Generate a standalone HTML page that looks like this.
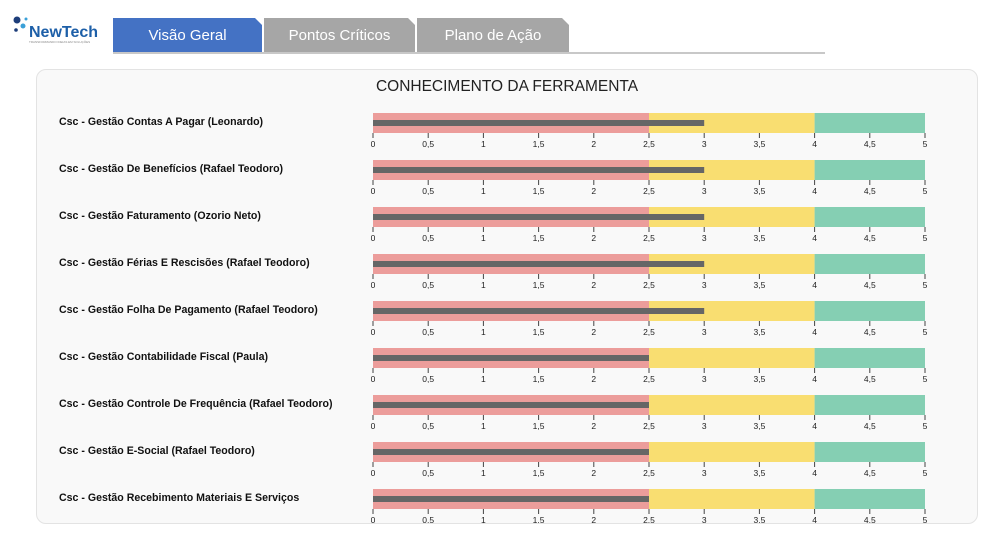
<!DOCTYPE html>
<html><head><meta charset="utf-8"><style>
body{margin:0;width:996px;height:538px;background:#fff;font-family:"Liberation Sans",sans-serif;position:relative;overflow:hidden}
.tab{position:absolute;top:18px;height:34px;color:#fff;font-size:15px;text-align:center;line-height:36px;clip-path:polygon(0 0,calc(100% - 7px) 0,100% 7px,100% 100%,0 100%)}
#panel{position:absolute;left:36px;top:69px;width:940px;height:453px;border:1px solid #e3e3e3;border-radius:10px;background:#f9f9f9;overflow:hidden}
</style></head><body>
<div style="position:absolute;left:12px;top:14px;width:90px;height:32px">
<svg width="90" height="32"><circle cx="5" cy="6" r="3.5" fill="#1d3d7a"/><circle cx="11" cy="12" r="2.5" fill="#3aa0d8"/><circle cx="4" cy="16" r="1.8" fill="#1d3d7a"/><circle cx="14" cy="5" r="1.5" fill="#3aa0d8"/>
<text x="17" y="23" font-family="Liberation Sans" font-weight="bold" font-size="16" fill="#1d5fa8">NewTech</text>
<text x="17" y="29" font-family="Liberation Sans" font-size="3" fill="#888">TRANSFORMANDO IDEIAS EM SOLUÇÕES</text></svg></div>
<div class="tab" style="left:113px;width:149px;background:#4472c4">Visão Geral</div>
<div class="tab" style="left:264px;width:151px;background:#a6a6a6">Pontos Críticos</div>
<div class="tab" style="left:417px;width:152px;background:#a6a6a6">Plano de Ação</div>
<div style="position:absolute;left:113px;top:52px;width:712px;height:2px;background:#c8c8c8"></div>
<div id="panel">
<svg id="chart" width="940" height="453"></svg>
</div>
<script>
const categories=["Csc - Gestão Contas A Pagar (Leonardo)","Csc - Gestão De Benefícios (Rafael Teodoro)","Csc - Gestão Faturamento (Ozorio Neto)","Csc - Gestão Férias E Rescisões (Rafael Teodoro)","Csc - Gestão Folha De Pagamento (Rafael Teodoro)","Csc - Gestão Contabilidade Fiscal (Paula)","Csc - Gestão Controle De Frequência (Rafael Teodoro)","Csc - Gestão E-Social (Rafael Teodoro)","Csc - Gestão Recebimento Materiais E Serviços"];
const values=[3,3,3,3,3,2.5,2.5,2.5,2.5];
const rangeBreaks=[2.5,4,5];
const tickValues=[0,0.5,1,1.5,2,2.5,3,3.5,4,4.5,5];
const tickLabels=["0","0,5","1","1,5","2","2,5","3","3,5","4","4,5","5"];
const svg=document.getElementById('chart');const NS="http://www.w3.org/2000/svg";
const ox=37,oy=70;
const x=v=>373-ox+v*(925-373)/5;
const rowY=i=>113-oy+i*47;
function mk(t,a,p){const e=document.createElementNS(NS,t);for(const k in a)e.setAttribute(k,a[k]);(p||svg).appendChild(e);return e;}
const t=mk('text',{x:507-ox,y:91-oy,'text-anchor':'middle','font-size':15.5,fill:'#222','font-family':'Liberation Sans'});t.textContent="CONHECIMENTO DA FERRAMENTA";


const colors=['#ec9d9b','#f9de71','#85cfb3'];
categories.forEach((c,i)=>{
 const y=rowY(i);
 const g=mk('g',{});
 
 
 const l=mk('text',{x:59-ox,y:y+12,'font-size':10.6,'font-weight':'bold',fill:'#111'},g);l.textContent=c;
 
 
 let prev=0;
 rangeBreaks.forEach((b,k)=>{const r=mk('rect',{x:x(prev),y:y,width:x(b)-x(prev),height:20,fill:colors[k]},g);
  
  prev=b;});
 const vb=mk('rect',{x:x(0),y:y+7,width:x(values[i])-x(0),height:6,fill:'#666'},g);
 
 
 tickValues.forEach((v,k)=>{mk('line',{x1:x(v),x2:x(v),y1:y+20,y2:y+25,stroke:'#444','stroke-width':1},g);
  const tl=mk('text',{x:x(v),y:y+34,'text-anchor':'middle','font-size':8.5,fill:'#222'},g);tl.textContent=tickLabels[k];
  
  });
});
</script>
</body></html>
